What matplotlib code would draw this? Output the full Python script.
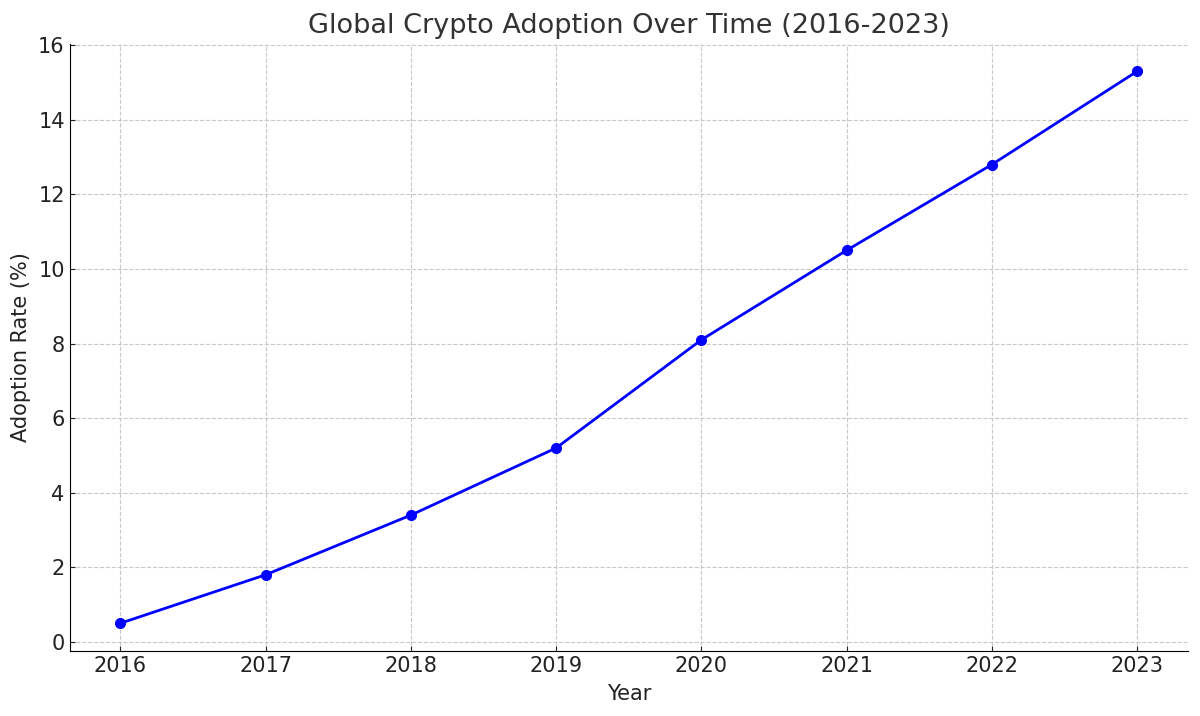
import matplotlib
matplotlib.use("Agg")
import matplotlib.pyplot as plt

years = [2016, 2017, 2018, 2019, 2020, 2021, 2022, 2023]
adoption = [0.5, 1.8, 3.4, 5.2, 8.1, 10.5, 12.8, 15.3]

title_color = '#333333'
text_color = '#222222'
plt.rcParams.update({'font.size': 15})

fig, ax = plt.subplots(figsize=(12, 7.16), dpi=100)
ax.plot(years, adoption, color='blue', marker='o', linewidth=2, markersize=7)

ax.set_title('Global Crypto Adoption Over Time (2016-2023)', fontsize=19.5,
             color=title_color, pad=7.5)
ax.set_xlabel('Year', fontsize=15, color=text_color, labelpad=6)
ax.set_ylabel('Adoption Rate (%)', fontsize=15, color=text_color, labelpad=5)
ax.set_xticks(years)
ax.tick_params(direction='in', colors=text_color, labelsize=15)
ax.grid(True, linestyle='--', color='#c8c8c8', linewidth=0.8)
ax.spines['top'].set_visible(False)
ax.spines['right'].set_visible(False)

fig.subplots_adjust(left=0.058, right=0.99, top=0.939, bottom=0.091)
fig.savefig('out.png')
